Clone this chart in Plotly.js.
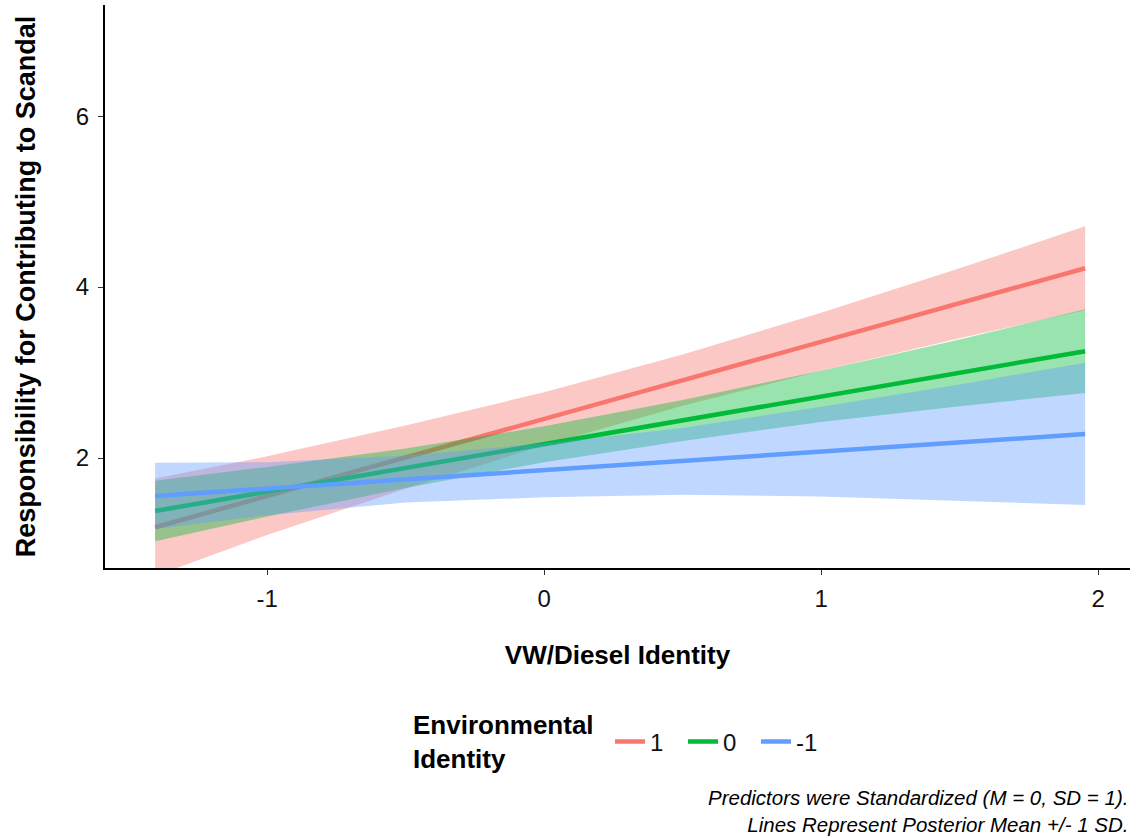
<!DOCTYPE html>
<html>
<head>
<meta charset="utf-8">
<script src="https://cdn.plot.ly/plotly-3.0.1.min.js"></script>
<style>html,body{margin:0;padding:0;background:#fff;}#chart{width:1136px;height:838px;}</style>
</head>
<body>
<div id="chart"></div>
<script>
// VW/Diesel Identity (x) sample points
const xVals = [-1.404, -1, -0.5, 0, 0.5, 1, 1.5, 1.953];

// Environmental Identity = 1
const meanHigh  = [1.19, 1.555, 2.006, 2.458, 2.909, 3.361, 3.812, 4.22];
const lowerHigh = [0.62, 1.10, 1.64, 2.15, 2.61, 3.02, 3.40, 3.73];
const upperHigh = [1.76, 2.02, 2.38, 2.77, 3.21, 3.70, 4.22, 4.71];

// Environmental Identity = 0
const meanMid  = [1.38, 1.605, 1.88, 2.16, 2.44, 2.72, 2.995, 3.25];
const lowerMid = [1.025, 1.315, 1.65, 1.95, 2.20, 2.42, 2.605, 2.76];
const upperMid = [1.735, 1.895, 2.11, 2.37, 2.68, 3.02, 3.385, 3.74];

// Environmental Identity = -1
const meanLow  = [1.555, 1.642, 1.75, 1.858, 1.966, 2.074, 2.182, 2.28];
const lowerLow = [1.17, 1.33, 1.48, 1.54, 1.57, 1.55, 1.50, 1.45];
const upperLow = [1.945, 1.95, 2.03, 2.17, 2.35, 2.60, 2.86, 3.115];

const groupNames = ['1', '0', '-1'];
const xTicks = [-1, 0, 1, 2];
const yTicks = [2, 4, 6];

const groups = [
  {name: groupNames[0], mean: meanHigh, lo: lowerHigh, hi: upperHigh, line: '#F8766D', fill: 'rgba(248,118,109,0.4)'},
  {name: groupNames[1], mean: meanMid,  lo: lowerMid,  hi: upperMid,  line: '#00BA38', fill: 'rgba(0,186,56,0.4)'},
  {name: groupNames[2], mean: meanLow,  lo: lowerLow,  hi: upperLow,  line: '#619CFF', fill: 'rgba(97,156,255,0.4)'}
];

const traces = [];
groups.forEach(g => {
  traces.push({
    x: xVals.concat(xVals.slice().reverse()),
    y: g.hi.concat(g.lo.slice().reverse()),
    type: 'scatter', mode: 'lines', fill: 'toself',
    fillcolor: g.fill, line: {width: 0, color: g.fill},
    hoverinfo: 'skip', showlegend: false
  });
  traces.push({
    x: xVals, y: g.mean, type: 'scatter', mode: 'lines', name: g.name,
    line: {color: g.line, width: 4.5}
  });
});

const font = 'Liberation Sans, Arial, sans-serif';
const layout = {
  width: 1136, height: 838,
  margin: {l: 105, r: 6, t: 5, b: 270},
  paper_bgcolor: '#fff', plot_bgcolor: '#fff',
  font: {family: font, color: '#000'},
  xaxis: {
    range: [-1.585, 2.115], tickvals: xTicks, ticktext: xTicks.map(String),
    showgrid: false, zeroline: false, showline: true, linecolor: '#000', linewidth: 2,
    ticks: 'outside', ticklen: 5, tickcolor: '#333', tickwidth: 1,
    tickfont: {size: 24, color: '#111'}, ticklabelstandoff: 3,
    title: {text: '<b>VW/Diesel Identity</b>', font: {size: 26, color: '#000'}, standoff: 35}
  },
  yaxis: {
    range: [0.713, 7.3], tickvals: yTicks, ticktext: yTicks.map(String),
    showgrid: false, zeroline: false, showline: true, linecolor: '#000', linewidth: 2,
    ticks: 'outside', ticklen: 5, tickcolor: '#333', tickwidth: 1,
    tickfont: {size: 24, color: '#111'}, ticklabelstandoff: 4,
    title: {text: '<b>Responsibility for Contributing to Scandal</b>', font: {size: 27, color: '#000'}, standoff: 32}
  },
  showlegend: true,
  legend: {
    orientation: 'h', x: 0.4927, xanchor: 'left', y: -0.309, yanchor: 'middle',
    font: {size: 24, color: '#111'},
    itemwidth: 30, tracegroupgap: 0, bgcolor: 'rgba(0,0,0,0)',
    entrywidth: 28, entrywidthmode: 'pixels'
  },
  annotations: [{
    xref: 'paper', yref: 'paper', x: 0.2985, y: -0.309, xanchor: 'left', yanchor: 'middle',
    align: 'left', showarrow: false,
    text: '<b>Environmental<br>Identity</b>',
    font: {size: 26, color: '#000'}
  }, {
    xref: 'paper', yref: 'paper', x: 1, y: -0.479, xanchor: 'right', yanchor: 'bottom',
    align: 'right', showarrow: false,
    text: '<i>Predictors were Standardized (M = 0, SD = 1).<br>Lines Represent Posterior Mean +/- 1 SD.</i>',
    font: {size: 20.5, color: '#000'}
  }]
};

Plotly.newPlot('chart', traces, layout, {displayModeBar: false, staticPlot: true});
</script>
</body>
</html>
